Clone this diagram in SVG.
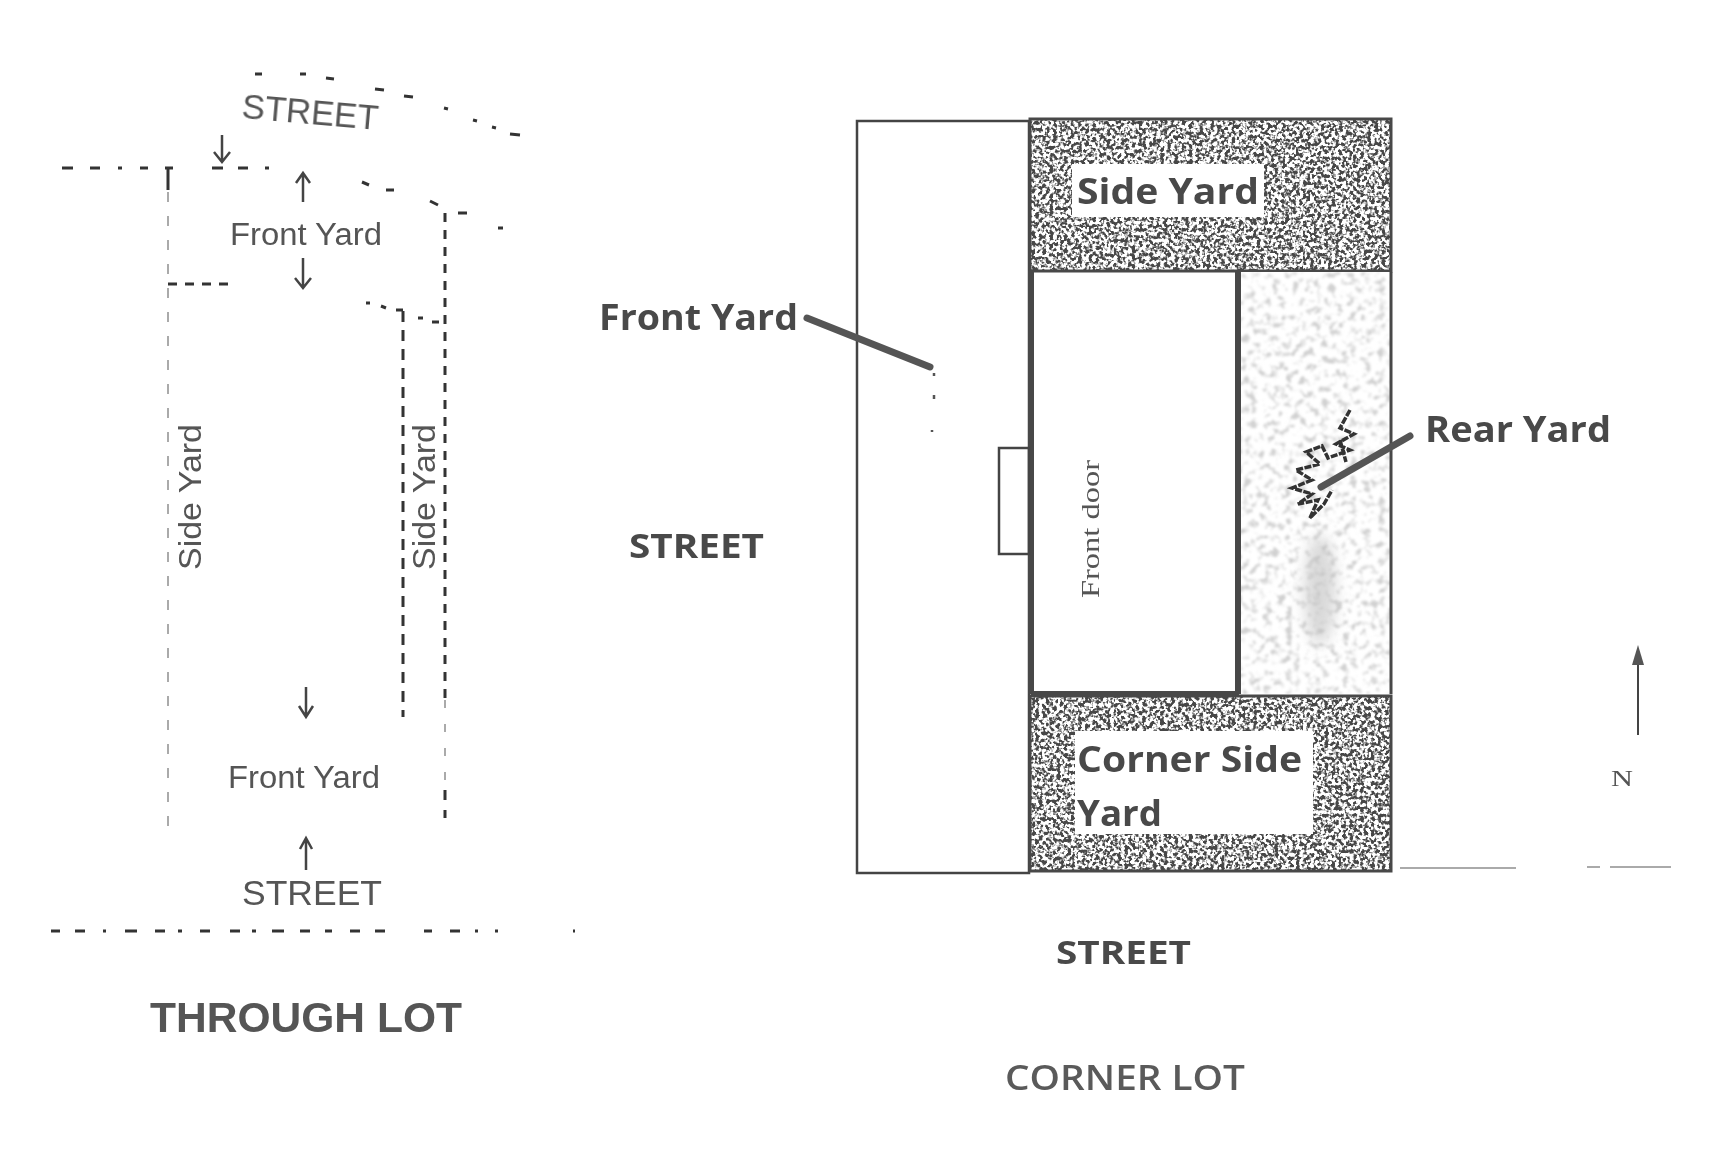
<svg xmlns="http://www.w3.org/2000/svg" width="1716" height="1152" viewBox="0 0 1716 1152">
<style>
text{font-family:"Liberation Sans",Arial,sans-serif;fill:#555;filter:url(#soft)}
.lot{font-size:31px}
.st{font-size:35px}
.b{font-family:"Open Sans","Noto Sans",sans-serif;font-weight:700;fill:#484848}
.dash{fill:none;stroke:#333;stroke-width:3}
.faint{fill:none;stroke:#aaa;stroke-width:2}
.arr{fill:none;stroke:#444;stroke-width:2.5}
.wall{fill:none;stroke:#484848;stroke-width:3}
.thin{fill:none;stroke:#444;stroke-width:2.5}
.lead{stroke:#555;stroke-width:7;stroke-linecap:round;fill:none}
</style>
<defs>
<filter id="soft" x="-5%" y="-20%" width="110%" height="140%"><feGaussianBlur stdDeviation="0.7"/></filter>
<filter id="noiseDark" x="0" y="0" width="100%" height="100%" color-interpolation-filters="sRGB">
<feTurbulence type="fractalNoise" baseFrequency="0.28" numOctaves="2" seed="7"/>
<feColorMatrix type="matrix" values="0 0 0 0 0.28  0 0 0 0 0.28  0 0 0 0 0.28  5 5 0 0 -4.6"/>
<feGaussianBlur stdDeviation="0.35"/>
<feComposite in2="SourceGraphic" operator="over"/>
</filter>
<filter id="noiseLight" x="0" y="0" width="100%" height="100%" color-interpolation-filters="sRGB">
<feTurbulence type="fractalNoise" baseFrequency="0.14" numOctaves="2" seed="11"/>
<feColorMatrix type="matrix" values="0 0 0 0 0.82  0 0 0 0 0.82  0 0 0 0 0.82  3 3 0 0 -3"/>
<feGaussianBlur stdDeviation="0.9"/>
<feComposite in2="SourceGraphic" operator="over"/>
</filter>
<filter id="blotch" x="-50%" y="-50%" width="200%" height="200%"><feGaussianBlur stdDeviation="7"/></filter>
</defs>
<rect width="1716" height="1152" fill="#fff"/>

<g id="through-lot-lines">
<path class="dash" d="M255 74H262M300 74H306M326 78L334 79M375 89L384 90M404 96L413 97M444 108L448 109M473 120L477 121M492 127L496 128M510 134L520 135"/>
<path class="dash" d="M62 168H73M90 168H100M118 168H122M140 168H148M165 168H173M212 168H223M238 168H248M265 168H269"/>
<path class="dash" d="M362 182L369 185M386 190H394M430 201L438 205M458 213H467M498 228H503"/>
<path class="dash" d="M366 303H370M381 306L386 308M396 310H403M418 318H423M432 322H439"/>
<path class="dash" stroke-dasharray="9 8" d="M168 284H232"/>
<path class="dash" stroke-width="2" stroke-dasharray="9 8" d="M445 213V700"/>
<path class="dash" stroke-dasharray="11 8" d="M403 311V717"/>
<path class="dash" d="M168 168V190"/>
<path class="faint" stroke-dasharray="10 14" d="M168 192V828"/>
<path class="faint" stroke-dasharray="8 16" d="M445 700V790"/>
<path class="dash" stroke-width="2" d="M445 790V800M445 810V818"/>
<path class="dash" d="M51 931H60M75 931H85M103 931H106M125 931H137M155 931H165M178 931H182M200 931H210M230 931H240M252 931H256M272 931H284M300 931H310M325 931H332M350 931H360M375 931H385M424 931H432M450 931H460M475 931H478M495 931H498M573 931H575"/>
</g>

<g id="through-lot-labels">
<text class="st" x="241" y="118" transform="rotate(5 241 118)" textLength="137" lengthAdjust="spacingAndGlyphs">STREET</text>
<text class="lot" x="230" y="245" textLength="152" lengthAdjust="spacingAndGlyphs">Front Yard</text>
<text class="lot" transform="translate(201 570) rotate(-90)" textLength="146" lengthAdjust="spacingAndGlyphs">Side Yard</text>
<text class="lot" transform="translate(435 570) rotate(-90)" textLength="146" lengthAdjust="spacingAndGlyphs">Side Yard</text>
<text class="lot" x="228" y="788" textLength="152" lengthAdjust="spacingAndGlyphs">Front Yard</text>
<text class="st" x="242" y="905" textLength="140" lengthAdjust="spacingAndGlyphs">STREET</text>
<text x="150" y="1032" font-size="42" font-weight="700" textLength="312" lengthAdjust="spacingAndGlyphs">THROUGH LOT</text>
</g>

<g id="front-lawn"><rect class="thin" x="857" y="121" width="172" height="752" fill="none"/></g>

<g id="side-yard">
<rect x="1029" y="119" width="362" height="152" fill="#fff" filter="url(#noiseDark)"/>
<rect class="wall" x="1030" y="119" width="361" height="152"/>
<rect x="1072" y="164" width="192" height="53" fill="#fff"/>
<text class="b" x="1077" y="204" font-size="36" textLength="182" lengthAdjust="spacingAndGlyphs">Side Yard</text>
</g>

<g id="rear-yard">
<rect x="1239" y="272" width="152" height="422" fill="#fff" filter="url(#noiseLight)"/>
<ellipse cx="1320" cy="590" rx="16" ry="55" fill="#bbb" opacity=".55" filter="url(#blotch)"/>
<path d="M1391 272V694" class="wall"/>
<path d="M1350 410L1340 428L1354 434L1336 444L1350 450L1328 458L1322 446L1306 452L1320 464L1296 470L1312 480L1292 488L1312 494L1298 504L1318 500L1310 518L1324 504L1332 490M1340 440L1346 462" fill="none" stroke="#333" stroke-width="3.5" stroke-dasharray="7 1.5"/>
</g>

<g id="house">
<rect x="1034" y="274" width="203" height="420" fill="#fff"/>
<path class="wall" style="stroke-width:6" d="M1031 271V694M1238 271V694"/>
<path d="M1031 694H1239" class="wall" style="stroke-width:6"/>
<text style="font-family:'Liberation Serif',serif" font-size="26" transform="translate(1099 598) rotate(-90)" textLength="138" lengthAdjust="spacingAndGlyphs">Front door</text>
</g>

<g id="door"><rect class="thin" x="999" y="448" width="30" height="106" fill="#fff"/></g>

<g id="corner-side-yard">
<rect x="1029" y="696" width="362" height="175" fill="#fff" filter="url(#noiseDark)"/>
<rect class="wall" x="1030" y="696" width="361" height="175"/>
<rect x="1075" y="731" width="238" height="103" fill="#fff"/>
<text class="b" x="1077" y="772" font-size="36" textLength="225" lengthAdjust="spacingAndGlyphs">Corner Side</text>
<text class="b" x="1077" y="826" font-size="36" textLength="85" lengthAdjust="spacingAndGlyphs">Yard</text>
</g>

<g id="corner-lot-labels">
<path class="faint" d="M1400 868H1516M1587 867H1600M1610 867H1671"/>
<text class="b" x="599" y="330" font-size="36" textLength="199" lengthAdjust="spacingAndGlyphs">Front Yard</text>
<text class="b" x="1425" y="442" font-size="36" textLength="186" lengthAdjust="spacingAndGlyphs">Rear Yard</text>
<text class="b" x="629" y="558" font-size="34" textLength="135" lengthAdjust="spacingAndGlyphs">STREET</text>
<text class="b" x="1056" y="964" font-size="32" textLength="135" lengthAdjust="spacingAndGlyphs">STREET</text>
<text class="b" x="1005" y="1090" font-size="34" style="font-weight:600;fill:#5a5a5a" textLength="240" lengthAdjust="spacingAndGlyphs">CORNER LOT</text>
<text x="1611" y="786" font-size="24" style="font-family:'Liberation Serif',serif" textLength="22" lengthAdjust="spacingAndGlyphs">N</text>
</g>

<g id="connectors">
<path class="arr" d="M222 135V162M214 152L222 162L230 152"/>
<path class="arr" d="M303 202V173M296 183L303 173L310 183"/>
<path class="arr" d="M303 258V288M295 278L303 288L311 278"/>
<path class="arr" d="M306 687V717M299 706L306 717L313 706"/>
<path class="arr" d="M306 870V838M300 849L306 838L312 849"/>
<path class="lead" d="M807 318L930 367"/>
<path class="lead" d="M1410 436L1321 487"/>
<path d="M1638 735V660" stroke="#444" stroke-width="2" fill="none"/>
<path d="M1638 645L1644 665H1632Z" fill="#555"/>
<path d="M934 373V376M934 395V399M932 430V432" stroke="#555" stroke-width="2.5" fill="none"/>
</g>
</svg>
